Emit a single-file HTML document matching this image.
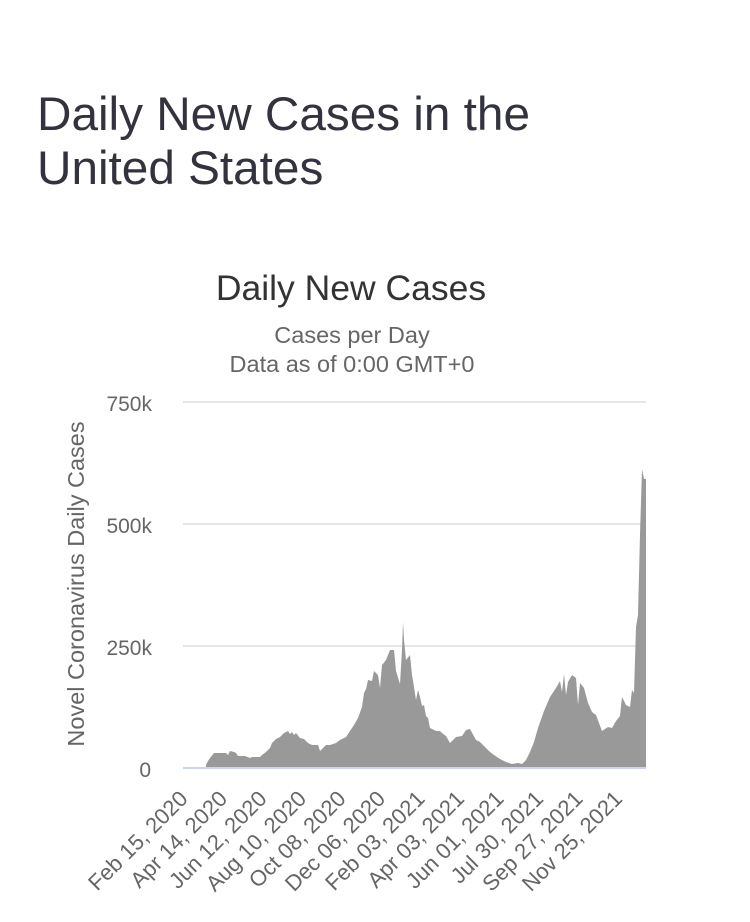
<!DOCTYPE html>
<html><head><meta charset="utf-8"><style>
html,body{margin:0;padding:0;background:#fff;}
body{width:750px;height:922px;position:relative;overflow:hidden;font-family:"Liberation Sans",sans-serif;}
h1{position:absolute;left:37px;top:88px;margin:0;font-weight:normal;font-size:47.7px;line-height:54px;color:#33333f;}
</style></head><body>
<h1>Daily New Cases in the<br>United States</h1>
<svg width="750" height="922" style="position:absolute;left:0;top:0">
<text x="351" y="300" text-anchor="middle" font-size="35.5" fill="#333" font-family="Liberation Sans">Daily New Cases</text>
<text x="352" y="343" text-anchor="middle" font-size="23.5" fill="#666" font-family="Liberation Sans">Cases per Day</text>
<text x="352" y="372" text-anchor="middle" font-size="23.5" fill="#666" font-family="Liberation Sans">Data as of 0:00 GMT+0</text>
<g stroke="#e6e6e6" stroke-width="2">
<line x1="183" y1="402" x2="646" y2="402"/>
<line x1="183" y1="524" x2="646" y2="524"/>
<line x1="183" y1="646" x2="646" y2="646"/>
</g>
<g font-size="21" fill="#666" text-anchor="end" font-family="Liberation Sans">
<text x="152" y="411">750k</text>
<text x="152" y="533">500k</text>
<text x="152" y="655">250k</text>
<text x="151" y="777">0</text>
</g>
<text transform="translate(84,584) rotate(-90)" text-anchor="middle" font-size="23.5" fill="#666" font-family="Liberation Sans">Novel Coronavirus Daily Cases</text>
<polygon fill="#999" points="206,768 206,765 208,761 210,758 214,753 226,753 228,755 230,751 234,752 236,753 238,756 245,756 250,758 252,757 260,757 262,755 266,752 270,748 272,743 276,739 280,737 284,733 288,731 290,734 292,732 294,735 296,733 300,738 304,739 308,743 312,745 318,745 320,751 322,749 326,745 330,745 336,743 340,740 346,737 350,731 354,725 358,718 362,707 364,693 366,689 368,680 372,681 374,671 378,675 380,688 382,665 386,660 390,650 394,650 396,671 400,684 402,650 403,622 404,640 406,660 410,655 412,675 414,687 416,700 418,690 420,697 422,706 424,705 426,716 428,718 430,728 432,729 436,731 440,731 442,733 446,736 450,743 456,737 462,736 466,730 470,729 476,740 480,742 486,748 490,752 494,755 500,759 506,762 512,764 518,763 522,764 526,760 530,752 534,742 538,728 544,711 550,697 556,688 560,681 562,692 564,674 566,695 568,682 572,675 576,678 578,705 580,683 584,688 588,703 592,712 596,715 602,731 608,727 612,728 616,721 620,716 622,697 626,705 630,707 632,690 634,693 636,627 638,615 640,535 642,469 644,479 646,479 646,768"/>
<line x1="183" y1="768" x2="646" y2="768" stroke="#ccd6eb" stroke-width="2"/>
<g font-size="22" fill="#666" text-anchor="end" font-family="Liberation Sans">
<text transform="translate(189,800) rotate(-45)">Feb 15, 2020</text>
<text transform="translate(228.5,800) rotate(-45)">Apr 14, 2020</text>
<text transform="translate(268,800) rotate(-45)">Jun 12, 2020</text>
<text transform="translate(307.5,800) rotate(-45)">Aug 10, 2020</text>
<text transform="translate(347,800) rotate(-45)">Oct 08, 2020</text>
<text transform="translate(386.5,800) rotate(-45)">Dec 06, 2020</text>
<text transform="translate(426,800) rotate(-45)">Feb 03, 2021</text>
<text transform="translate(465.5,800) rotate(-45)">Apr 03, 2021</text>
<text transform="translate(505,800) rotate(-45)">Jun 01, 2021</text>
<text transform="translate(544.5,800) rotate(-45)">Jul 30, 2021</text>
<text transform="translate(584,800) rotate(-45)">Sep 27, 2021</text>
<text transform="translate(623.5,800) rotate(-45)">Nov 25, 2021</text>
</g>
</svg>
</body></html>
